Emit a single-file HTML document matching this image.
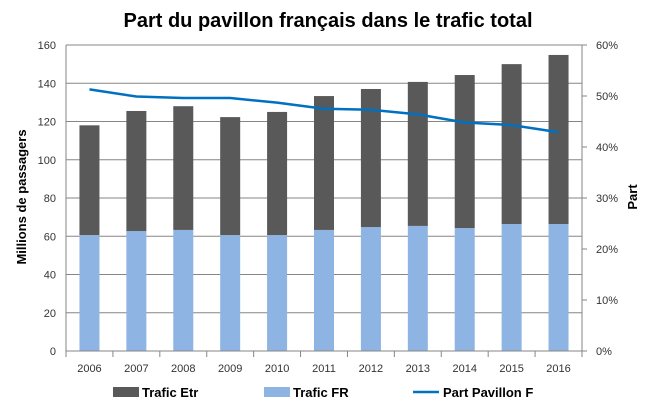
<!DOCTYPE html>
<html><head><meta charset="utf-8"><style>
body{margin:0;background:#fff;}
svg{display:block;font-family:"Liberation Sans",sans-serif;}
</style></head><body>
<svg id="c" width="655" height="418">
<text x="328" y="27" text-anchor="middle" font-size="20" font-weight="bold" fill="#000">Part du pavillon français dans le trafic total</text>
<text transform="translate(26,197) rotate(-90)" text-anchor="middle" font-size="13" font-weight="bold">Millions de passagers</text>
<text transform="translate(637,197) rotate(-90)" text-anchor="middle" font-size="13" font-weight="bold">Part</text>
<g id="grid"></g><g id="bars"></g><g id="line"></g><g id="axes"></g>
<g>
<rect x="113" y="387" width="26" height="10" fill="#595959"/>
<text x="142" y="397" font-size="13" font-weight="bold">Trafic Etr</text>
<rect x="264" y="387" width="26" height="10" fill="#8DB4E2"/>
<text x="293" y="397" font-size="13" font-weight="bold">Trafic FR</text>
<line x1="413" y1="392" x2="439" y2="392" stroke="#0070C0" stroke-width="2.5"/>
<text x="443" y="397" font-size="13" font-weight="bold">Part Pavillon F</text>
</g>
</svg>
<script>
const categories=["2006","2007","2008","2009","2010","2011","2012","2013","2014","2015","2016"];
const traficFR=[60.6,62.7,63.3,60.6,60.6,63.3,64.8,65.4,64.3,66.4,66.4];
const traficEtr=[57.4,62.8,64.7,61.7,64.4,70.0,72.2,75.3,80.0,83.6,88.4];
const partPavillon=[51.3,49.9,49.6,49.6,48.7,47.5,47.3,46.4,44.8,44.3,42.9];
const leftTicks=[0,20,40,60,80,100,120,140,160];
const rightTicks=[0,10,20,30,40,50,60];
const NS="http://www.w3.org/2000/svg";
const L=66,R=582,T=45,B=351;
const y=v=>B-(v/160)*(B-T);
const y2=p=>B-(p/60)*(B-T);
const bw=(R-L)/categories.length;
const xc=i=>L+bw*(i+0.5);
function mk(tag,attrs,parent){const e=document.createElementNS(NS,tag);for(const k in attrs)e.setAttribute(k,attrs[k]);document.getElementById(parent).appendChild(e);return e;}
leftTicks.forEach(v=>{
  if(v>0){const g=mk('line',{x1:L,x2:R,y1:y(v),y2:y(v),stroke:'#868686','stroke-width':1},'grid');
  
  }
  const t=mk('text',{x:L-10,y:y(v)+4,'text-anchor':'end','font-size':11,fill:'#333'},'axes');t.textContent=v;
  
  
});
rightTicks.forEach(p=>{
  const t=mk('text',{x:596,y:y2(p)+4,'font-size':11,fill:'#333'},'axes');t.textContent=p+'%';
  
  
});
categories.forEach((c,i)=>{
  const w=20,x=xc(i)-w/2;
  const a=mk('rect',{x:x,y:y(traficFR[i]),width:w,height:B-y(traficFR[i]),fill:'#8DB4E2'},'bars');
  
  
  const tot=traficFR[i]+traficEtr[i];
  const b=mk('rect',{x:x,y:y(tot),width:w,height:y(traficFR[i])-y(tot),fill:'#595959'},'bars');
  
  
  const t=mk('text',{x:xc(i),y:372,'text-anchor':'middle','font-size':11,fill:'#333'},'axes');t.textContent=c;
  
  
});
for(let i=0;i<=categories.length;i++){
  const tk=mk('line',{x1:L+bw*i,x2:L+bw*i,y1:B,y2:B+6,stroke:'#868686'},'axes');
  
  
}
const ax=mk('line',{x1:L,x2:R,y1:B,y2:B,stroke:'#868686'},'axes');


const ay=mk('line',{x1:L,x2:L,y1:T,y2:B+6,stroke:'#868686'},'axes');


const ay2=mk('line',{x1:R,x2:R,y1:T,y2:B,stroke:'#868686'},'axes');


rightTicks.forEach(p=>{const k=mk('line',{x1:R,x2:R+5,y1:y2(p),y2:y2(p),stroke:'#868686'},'axes');
  
  });
const pts=partPavillon.map((p,i)=>xc(i)+','+y2(p)).join(' ');
const pl=mk('polyline',{points:pts,fill:'none',stroke:'#0070C0','stroke-width':2.5,'stroke-linejoin':'round'},'line');


</script>
</body></html>
